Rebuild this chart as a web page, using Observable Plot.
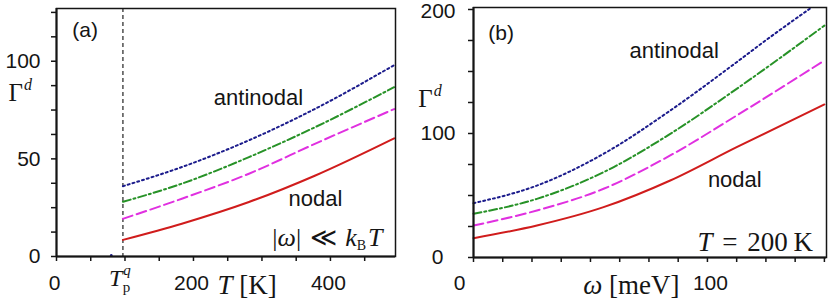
<!DOCTYPE html>
<html><head><meta charset="utf-8">
<script src="https://cdn.jsdelivr.net/npm/d3@7"></script>
<script src="https://cdn.jsdelivr.net/npm/@observablehq/plot@0.6"></script>
<style>
html,body{margin:0;padding:0;background:#fff;}
#wrap{position:relative;width:830px;height:306px;overflow:hidden;background:#fff;}
#pa,#pb{position:absolute;top:0;}
#pa{left:0;} #pb{left:415px;}
svg{overflow:visible;}
</style></head><body><div id="wrap"><div id="pa"></div><div id="pb"></div></div>
<script>
// ---------- data ----------
const seriesNames = ["nodal", "intermediate 1", "intermediate 2", "antinodal"];
const seriesColors = ["#d01c1c", "#e030e0", "#279227", "#1c1c8c"];
const seriesDash = [null, "10,4.5", "8,3,2,3", "2,3"];

// panel (a): Gamma^d vs T (K), |omega| << k_B T
const T_p = 97;
const tempsA = [97, 183, 281, 378, 493];
const gammaA_nodal = [8.5, 16.8, 27.9, 41.5, 60.5];
const gammaA_mid1 = [19.3, 29.6, 42.4, 57.8, 75.5];
const gammaA_mid2 = [28.0, 37.3, 50.9, 66.3, 86.7];
const gammaA_anti = [36.0, 45.8, 59.5, 75.7, 98.0];
const artifactA = [[80, 0.6]];

// panel (b): Gamma^d vs omega (meV), T = 200 K
const omegaB = [0, 27.1, 55.6, 84.1, 112.5, 150];
const gammaB_nodal = [15.6, 25.8, 40.6, 62.1, 89.0, 123.4];
const gammaB_mid1 = [25.8, 37.9, 55.4, 82.3, 114.5, 158.9];
const gammaB_mid2 = [35.2, 47.3, 68.8, 99.7, 136.0, 187.0];
const omegaB_anti = [0, 27.1, 55.6, 84.1, 112.5, 126.8, 144.5];
const gammaB_anti = [43.8, 58.0, 83.6, 118.5, 157.5, 177.7, 201.6];

// ticks
const xTicksA = [0, 50, 100, 150, 200, 250, 300, 350, 400, 450];
const xLabelsA = [0, 200, 400];
const yTicksA = [0, 12.5, 25, 37.5, 50, 62.5, 75, 87.5, 100, 112.5, 125];
const yLabelsA = [0, 50, 100];
const xTicksB = [0, 12.5, 25, 37.5, 50, 62.5, 75, 87.5, 100, 112.5, 125, 137.5, 150];
const yTicksB = [0, 25, 50, 75, 100, 125, 150, 175, 200];

// ---------- helpers ----------
const zip = (xs, ys) => xs.map((x, i) => ({x, y: ys[i]}));
const seriesA = [gammaA_nodal, gammaA_mid1, gammaA_mid2, gammaA_anti].map(g => zip(tempsA, g));
const seriesB = [zip(omegaB, gammaB_nodal), zip(omegaB, gammaB_mid1), zip(omegaB, gammaB_mid2), zip(omegaB_anti, gammaB_anti)];

const lineMarks = (series) => series.map((rows, i) => Plot.line(rows, {
  x: "x", y: "y", stroke: seriesColors[i], strokeWidth: 2,
  strokeDasharray: seriesDash[i] || undefined, curve: "monotone-x"
}));

const SANS = "Liberation Sans, Arial, sans-serif";
const SERIF = "Liberation Serif, Times New Roman, serif";
const INK = "#151515";

const label = (txt, x, y, o = {}) => Plot.text([txt], {
  x: () => x, y: () => y, text: d => d, lineAnchor: "bottom",
  fill: INK, fontFamily: SANS, fontSize: 21, ...o
});

const RICH = {
  "Γd": '<tspan>Γ</tspan><tspan font-style="italic" font-size="16px" dy="-11" dx="1">d</tspan>',
  "|ω| ≪ kBT": '|<tspan font-style="italic">ω</tspan>| <tspan dx="2">≪</tspan> <tspan font-style="italic" dx="2">k</tspan><tspan font-size="14px" dy="4">B</tspan><tspan font-style="italic" dy="-4" dx="2">T</tspan>',
  "Tpq": '<tspan font-style="italic">T</tspan><tspan font-style="italic" font-size="15px" dy="-11" dx="1">q</tspan><tspan font-size="15px" dy="17" dx="-8">p</tspan>',
  "T [K]": '<tspan font-style="italic">T</tspan> [K]',
  "T = 200 K": '<tspan font-style="italic">T</tspan> <tspan dx="3">=</tspan> <tspan dx="3">200</tspan> <tspan dx="-1">K</tspan>',
  "ω [meV]": '<tspan font-style="italic">ω</tspan> [meV]'
};
function richify(svg) {
  svg.querySelectorAll("text").forEach(t => {
    const m = RICH[t.textContent];
    if (m) t.innerHTML = m;
  });
  return svg;
}

const baseStyle = {fontFamily: SANS, color: INK, background: "transparent", overflow: "visible"};

// ---------- panel (a) ----------
const plotA = Plot.plot({
  width: 415, height: 306,
  marginLeft: 56, marginRight: 20, marginTop: 8, marginBottom: 50,
  x: {domain: [0, 495], label: null},
  y: {domain: [0, 127], label: null},
  style: baseStyle,
  marks: [
    Plot.ruleX([T_p], {stroke: "#222", strokeWidth: 1.2, strokeDasharray: "4,3"}),
    ...lineMarks(seriesA),
    Plot.dot(artifactA, {x: d => d[0], y: d => d[1], r: 1.3, fill: "#1c1c8c", stroke: null}),
    Plot.frame({stroke: INK, strokeWidth: 1.5}),
    Plot.ruleX([0], {stroke: INK, strokeWidth: 2}),
    Plot.ruleY([0], {stroke: INK, strokeWidth: 2}),
    Plot.axisX(xTicksA, {tickSize: 5, tickFormat: () => "", strokeWidth: 1.5, stroke: INK, label: null}),
    Plot.axisX(xLabelsA, {tickSize: 0, tickPadding: 19, fontSize: 21, fontFamily: SANS, dx: -2, fill: INK, label: null}),
    Plot.axisY(yTicksA, {tickSize: 5, tickFormat: () => "", strokeWidth: 1.5, stroke: INK, label: null}),
    Plot.axisY(yLabelsA, {tickSize: 0, tickPadding: 16, fontSize: 21, fontFamily: SANS, fill: INK, label: null}),
    label("(a)", 23, 112.5, {textAnchor: "start"}),
    label("antinodal", 295, 77.8, {fontSize: 22}),
    label("nodal", 378, 26.1, {fontSize: 22}),
    label("|ω| ≪ kBT", 476, 5.2, {textAnchor: "end", fontFamily: SERIF, fontSize: 26}),
    label("Γd", -70, 79.4, {textAnchor: "start", fontFamily: SERIF, fontSize: 25}),
    label("Tpq", T_p, 0, {textAnchor: "start", dx: -14, dy: 29, fontFamily: SERIF, fontSize: 24}),
    label("T [K]", 235, 0, {textAnchor: "start", dy: 37, fontFamily: SERIF, fontSize: 27})
  ]
});
document.getElementById("pa").appendChild(richify(plotA));

// ---------- panel (b) ----------
const plotB = Plot.plot({
  width: 415, height: 306,
  marginLeft: 58, marginRight: 4, marginTop: 7, marginBottom: 49,
  x: {domain: [0, 150.9], label: null},
  y: {domain: [0, 201.6], label: null},
  style: baseStyle,
  marks: [
    ...lineMarks(seriesB),
    Plot.frame({stroke: INK, strokeWidth: 1.5}),
    Plot.ruleX([0], {stroke: INK, strokeWidth: 2}),
    Plot.ruleY([0], {stroke: INK, strokeWidth: 2}),
    Plot.axisX(xTicksB, {tickSize: 5, tickFormat: () => "", strokeWidth: 1.5, stroke: INK, label: null}),
    Plot.axisX([0], {tickSize: 0, tickPadding: 18, fontSize: 21, fontFamily: SANS, dx: -14, fill: INK, label: null}),
    Plot.axisX([100], {tickSize: 0, tickPadding: 18, fontSize: 21, fontFamily: SANS, dx: 3, fill: INK, label: null}),
    Plot.axisY(yTicksB, {tickSize: 5, tickFormat: () => "", strokeWidth: 1.5, stroke: INK, label: null}),
    Plot.axisY([100], {tickSize: 0, tickPadding: 18, fontSize: 21, fontFamily: SANS, fill: INK, label: null}),
    Plot.axisY([200], {tickSize: 0, tickPadding: 18, fontSize: 21, fontFamily: SANS, fill: INK, dy: 1.5, label: null}),
    Plot.axisY([0], {tickSize: 0, tickPadding: 30, fontSize: 21, fontFamily: SANS, fill: INK, label: null}),
    label("(b)", 6.3, 175, {textAnchor: "start"}),
    label("antinodal", 85.8, 160.5, {fontSize: 22}),
    label("nodal", 111.7, 56.5, {fontSize: 22}),
    label("T = 200 K", 145.1, 5.6, {textAnchor: "end", fontFamily: SERIF, fontSize: 27}),
    label("Γd", -23.6, 121, {textAnchor: "start", fontFamily: SERIF, fontSize: 25}),
    label("ω [meV]", 46.9, 0, {textAnchor: "start", dy: 36, fontFamily: SERIF, fontSize: 27})
  ]
});
document.getElementById("pb").appendChild(richify(plotB));
</script>
</body></html>
